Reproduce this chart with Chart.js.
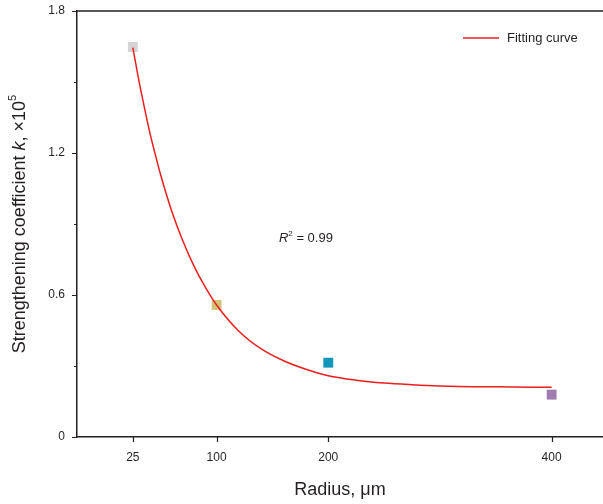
<!DOCTYPE html>
<html>
<head>
<meta charset="utf-8">
<script src="https://cdn.jsdelivr.net/npm/chart.js@4"></script>
<style>
  html, body { margin: 0; padding: 0; background: #fff; }
  canvas { display: block; }
</style>
</head>
<body>
<canvas id="kChart" width="603" height="504"></canvas>
<script>
// measured samples
const radius = [25, 100, 200, 400];
const kValues = [1.648, 0.558, 0.314, 0.179];
const pointColors = ['#d4d4d4', '#cfc67a', '#1196b8', '#a07cb0'];

// fitting curve
const fitRadius = [25, 30, 35, 40, 45, 50, 60, 70, 80, 90, 100, 120, 140, 160, 180, 200, 225, 250, 275, 300, 350, 400];
const fitK = [1.645, 1.516, 1.40, 1.29, 1.195, 1.106, 0.952, 0.826, 0.72, 0.632, 0.558, 0.447, 0.372, 0.322, 0.286, 0.259, 0.240, 0.228, 0.221, 0.216, 0.212, 0.210];

const xTicks = [25, 100, 200, 400];
const yTicks = [0, 0.6, 1.2, 1.8];
const yMinorTicks = [0.3, 0.9, 1.5];

const FONT = '"Liberation Sans", Arial, sans-serif';
const INK = '#231f20';
const RED = '#ee1d1d';

function drawRich(ctx, parts, x, y) {
  let total = 0;
  parts.forEach(p => { ctx.font = p.font; total += ctx.measureText(p.t).width; });
  let cx = x - total / 2;
  parts.forEach(p => {
    ctx.font = p.font;
    ctx.fillText(p.t, cx, y + (p.dy || 0));
    cx += ctx.measureText(p.t).width;
  });
}

const decorations = {
  id: 'decorations',
  afterDraw(chart) {
    const { ctx, chartArea, scales } = chart;
    const xs = scales.x, ys = scales.y;
    ctx.save();
    ctx.strokeStyle = INK;
    ctx.lineWidth = 1.5;

    // top frame line
    ctx.beginPath();
    ctx.moveTo(chartArea.left, chartArea.top);
    ctx.lineTo(chartArea.right, chartArea.top);
    ctx.stroke();

    // tick marks
    ctx.lineWidth = 1.2;
    ctx.beginPath();
    yTicks.forEach(v => {
      const py = Math.round(ys.getPixelForValue(v)) + 0.5;
      ctx.moveTo(chartArea.left - 5, py); ctx.lineTo(chartArea.left, py);
    });
    yMinorTicks.forEach(v => {
      const py = Math.round(ys.getPixelForValue(v)) + 0.5;
      ctx.moveTo(chartArea.left - 3, py); ctx.lineTo(chartArea.left, py);
    });
    xTicks.forEach(v => {
      const px = Math.round(xs.getPixelForValue(v)) + 0.5;
      ctx.moveTo(px, chartArea.bottom); ctx.lineTo(px, chartArea.bottom + 5);
    });
    ctx.stroke();

    ctx.fillStyle = INK;
    ctx.textBaseline = 'middle';
    ctx.textAlign = 'left';

    // legend
    ctx.strokeStyle = RED;
    ctx.lineWidth = 1.5;
    ctx.beginPath();
    ctx.moveTo(463, 38); ctx.lineTo(499, 38);
    ctx.stroke();
    ctx.font = '13px ' + FONT;
    ctx.fillText('Fitting curve', 507, 38);

    // R squared
    drawRich(ctx, [
      { t: 'R', font: 'italic 13px ' + FONT },
      { t: '2', font: '8px ' + FONT, dy: -4 },
      { t: ' = 0.99', font: '13px ' + FONT }
    ], xs.getPixelForValue(180), ys.getPixelForValue(0.84));

    // x title
    drawRich(ctx, [{ t: 'Radius, μm', font: '18px ' + FONT }],
      (chartArea.left + chartArea.right) / 2, 490);

    // y title
    ctx.translate(20, (chartArea.top + chartArea.bottom) / 2);
    ctx.rotate(-Math.PI / 2);
    drawRich(ctx, [
      { t: 'Strengthening coefficient ', font: '18px ' + FONT },
      { t: 'k', font: 'italic 18px ' + FONT },
      { t: ', ×10', font: '18px ' + FONT },
      { t: '5', font: '11px ' + FONT, dy: -7 }
    ], 0, 0);
    ctx.restore();
  }
};

const ctx = document.getElementById('kChart').getContext('2d');
const kChart = new Chart(ctx, {
  type: 'scatter',
  data: {
    datasets: [{
      type: 'line',
      label: 'Fitting curve',
      data: fitRadius.map((r, i) => ({ x: r, y: fitK[i] })),
      borderColor: RED,
      borderWidth: 1.5,
      pointRadius: 0,
      fill: false,
      cubicInterpolationMode: 'monotone'
    }, {
      label: 'Samples',
      data: radius.map((r, i) => ({ x: r, y: kValues[i] })),
      pointStyle: 'rect',
      pointRadius: 7,
      backgroundColor: pointColors,
      borderColor: pointColors,
      borderWidth: 0
    }]
  },
  options: {
    responsive: false,
    animation: false,
    layout: { autoPadding: false, padding: { top: 11, left: 0, right: 0, bottom: 0 } },
    plugins: {
      legend: { display: false },
      tooltip: { enabled: false }
    },
    scales: {
      x: {
        type: 'linear',
        min: -25,
        max: 446,
        afterBuildTicks: s => { s.ticks = xTicks.map(v => ({ value: v })); },
        afterFit: s => { s.height = 67; s.paddingLeft = 0; s.paddingRight = 0; },
        grid: { display: false, drawTicks: false, tickLength: 0 },
        border: { display: true, color: INK, width: 1.5 },
        ticks: {
          font: { family: FONT, size: 12 },
          color: INK,
          padding: 13,
          maxRotation: 0,
          autoSkip: false
        }
      },
      y: {
        min: 0,
        max: 1.8,
        afterBuildTicks: s => { s.ticks = yTicks.map(v => ({ value: v })); },
        afterFit: s => { s.width = 77; s.paddingTop = 0; s.paddingBottom = 0; },
        grid: { display: false, drawTicks: false, tickLength: 0 },
        border: { display: true, color: INK, width: 1.5 },
        ticks: {
          font: { family: FONT, size: 12 },
          color: INK,
          padding: 12,
          callback: v => v === 0 ? '0' : v.toFixed(1)
        }
      }
    }
  },
  plugins: [decorations]
});
</script>
</body>
</html>
